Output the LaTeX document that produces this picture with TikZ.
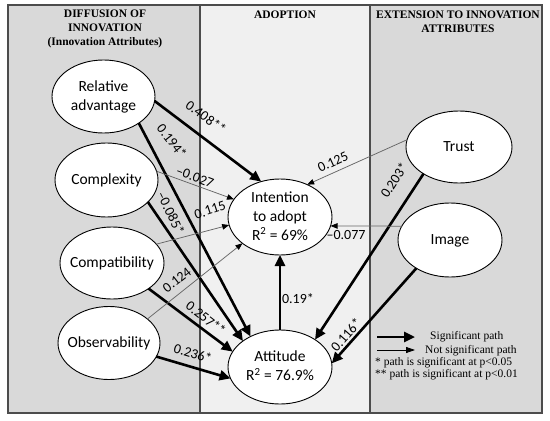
\documentclass[tikz,border=0pt]{standalone}
\usepackage{fontspec}
\setmainfont{Carlito}
\newfontfamily\tnr{Liberation Serif}
\usetikzlibrary{shapes.geometric,arrows.meta}
\newcommand{\etext}[1]{\makebox[0pt]{\smash{\raisebox{-0.25em}{\begin{tabular}{@{}c@{}}#1\end{tabular}}}}}
\tikzset{
  panel/.style={draw=black!70, line width=1.2pt},
  ell/.style={ellipse, draw=black, line width=0.9pt, fill=white, inner sep=0pt, outer sep=0pt,
    font=\fontsize{15.5}{19}\selectfont},
  sig/.style={line width=2.6pt, draw=black, -{Triangle[length=11pt,width=10pt]}},
  nsig/.style={line width=0.75pt, draw=black!60, -{Triangle[length=7pt,width=5.5pt,fill=black,color=black]}},
  lab/.style={font=\fontsize{14}{16}\selectfont, inner sep=0pt},
  head/.style={font=\tnr\bfseries\fontsize{11.5}{14}\selectfont, inner sep=0pt, align=center},
  leg/.style={font=\tnr\fontsize{11.5}{13}\selectfont, inner sep=0pt, anchor=west}
}
\begin{document}
\begin{tikzpicture}[x=1pt,y=-1pt]
\useasboundingbox (0,0) rectangle (550,421);
% panels
\filldraw[panel, fill=black!15] (8,5) rectangle (200,413);
\filldraw[panel, fill=black!6] (200,5) rectangle (370,413);
\filldraw[panel, fill=black!15] (370,5) rectangle (542,413);
% headers
\node[head] (h1) at (105,29) {DIFFUSION OF\\INNOVATION\\(Innovation Attributes)};
\node[head] (h2) at (285,15) {ADOPTION};
\node[head] (h3) at (458,22) {EXTENSION TO INNOVATION\\ATTRIBUTES};
% constructs
\node[ell, minimum width=103pt, minimum height=73pt] (ra) at (103.5,96.5) {\etext{Relative\\advantage}};
\node[ell, minimum width=103pt, minimum height=74pt] (cx) at (106.5,180) {\etext{Complexity}};
\node[ell, minimum width=104pt, minimum height=72pt] (cp) at (112,263) {\etext{Compatibility}};
\node[ell, minimum width=102pt, minimum height=73pt] (ob) at (109,343) {\etext{Observability}};
\node[ell, minimum width=104pt, minimum height=76pt] (int) at (280,217) {\etext{Intention\\to adopt\\R\textsuperscript{2} = 69\%}};
\node[ell, minimum width=104pt, minimum height=74pt] (att) at (280,367) {\etext{Attitude\\R\textsuperscript{2} = 76.9\%}};
\node[ell, minimum width=106pt, minimum height=72pt] (tr) at (459,147) {\etext{Trust}};
\node[ell, minimum width=104pt, minimum height=74pt] (im) at (450,240) {\etext{Image}};
% paths
\draw[sig] (ra.-5) -- (int.118);
\draw[sig] (ra.-37) -- (att.134);
\draw[nsig] (cx.10) -- (int.159);
\draw[sig] (cx.-28) -- (att.145);
\draw[nsig] (cp.23) -- (int.189);
\draw[sig] (cp.-35) -- (att.162);
\draw[nsig] (ob.32) -- (int.215);
\draw[sig] (ob.-16) -- (att.193);
\draw[nsig] (tr.172) -- (int.50);
\draw[sig] (tr.217) -- (att.38);
\draw[nsig] (im.164) -- (int.-10);
\draw[sig] (im.220) -- (att.4);
\draw[sig] (att.north) -- (int.south);
% coefficients
\node[lab, rotate=-36] (c1) at (206,117) {0.408**};
\node[lab, rotate=-52] (c2) at (172,141) {0.194*};
\node[lab, rotate=-21] (c3) at (195,177) {–0.027};
\node[lab, rotate=-64] (c4) at (171,213) {–0.085*};
\node[lab, rotate=18] (c5) at (210,210) {0.115};
\node[lab, rotate=38] (c6) at (177,280) {0.124};
\node[lab, rotate=-38] (c7) at (206,318) {0.257**};
\node[lab, rotate=-17] (c8) at (193,353) {0.236*};
\node[lab, rotate=25] (c9) at (333,162) {0.125};
\node[lab, rotate=57] (c10) at (394,180) {0.203*};
\node[lab] (c11) at (346,235) {–0.077};
\node[lab, rotate=49] (c12) at (346,335) {0.116*};
\node[lab] (c13) at (298,299) {0.19*};
% legend
\coordinate (s1) at (377,337);
\coordinate (s2) at (415,337);
\coordinate (n1) at (377,350);
\coordinate (n2) at (415,350);
\draw[sig] (s1) -- (s2);
\draw[line width=0.8pt, draw=black, -{Triangle[length=9pt,width=6pt]}] (n1) -- (n2);
\node[leg] (t1) at (430,337) {Significant path};
\node[leg] (t2) at (425,351) {Not significant path};
\node[leg] (t3) at (375,363) {* path is significant at p<0.05};
\node[leg] (t4) at (375,375) {** path is significant at p<0.01};
\end{tikzpicture}
\end{document}
